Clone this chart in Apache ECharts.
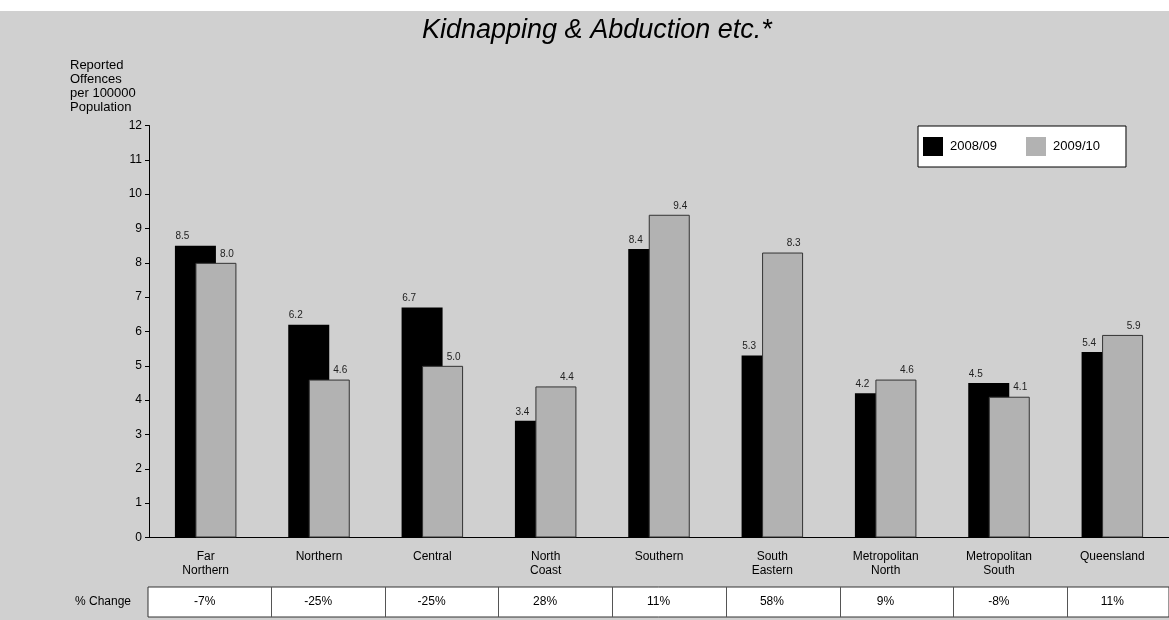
<!DOCTYPE html>
<html>
<head>
<meta charset="utf-8">
<script src="https://cdn.jsdelivr.net/npm/echarts@6/dist/echarts.min.js"></script>
<style>
html,body{margin:0;padding:0;background:#fff;}
#c{width:1169px;height:620px;}
</style>
</head>
<body>
<div id="c"></div>
<script>
const categories = ['Far\nNorthern','Northern','Central','North\nCoast','Southern','South\nEastern','Metropolitan\nNorth','Metropolitan\nSouth','Queensland'];
const series2008 = [8.5, 6.2, 6.7, 3.4, 8.4, 5.3, 4.2, 4.5, 5.4];
const series2009 = [8.0, 4.6, 5.0, 4.4, 9.4, 8.3, 4.6, 4.1, 5.9];
const pctChange = ['-7%','-25%','-25%','28%','11%','58%','9%','-8%','11%'];
const yTicks = [0,1,2,3,4,5,6,7,8,9,10,11,12];

const FONT = 'Liberation Sans, Arial, sans-serif';
const gridLeft = 149, gridWidth = 1024;
const band = gridWidth / categories.length;

const chart = echarts.init(document.getElementById('c'));

const dividers = [];
for (let i = 0; i < categories.length - 1; i++) {
  const x = Math.round(gridLeft + band * (i + 1) + 8) + 0.5;
  dividers.push({type:'line', shape:{x1:x, y1:587, x2:x, y2:617}, style:{stroke:'#555', lineWidth:1}, z:10});
}

chart.setOption({
  backgroundColor: '#ffffff',
  animation: false,
  title: {
    text: 'Kidnapping & Abduction etc.*',
    left: 417, top: 12,
    textStyle: {fontFamily: FONT, fontSize: 27, fontStyle: 'italic', fontWeight: 'normal', color: '#000'}
  },
  legend: {
    left: 918, top: 126,
    orient: 'horizontal',
    backgroundColor: '#fff',
    borderColor: '#000', borderWidth: 1, borderRadius: 0,
    padding: [11, 26, 11, 5],
    itemWidth: 20, itemHeight: 19, itemGap: 29,
    icon: 'rect',
    itemStyle: {borderWidth: 0},
    textStyle: {fontFamily: FONT, fontSize: 13, color: '#000', padding: [0,0,0,2]},
    data: ['2008/09','2009/10']
  },
  grid: [
    {left: gridLeft, width: gridWidth, top: 125.5, bottom: 82.5, containLabel: false},
    {left: gridLeft - 1, width: gridWidth + 1, top: 587, height: 30, show: true, backgroundColor: '#fff', borderColor: '#333', borderWidth: 1}
  ],
  xAxis: [
    {
      type: 'category', gridIndex: 0, data: categories,
      axisLine: {lineStyle: {color: '#000', width: 1}},
      axisTick: {show: false},
      axisLabel: {fontFamily: FONT, fontSize: 12, color: '#000', lineHeight: 14, margin: 12, interval: 0}
    },
    {
      type: 'category', gridIndex: 1, data: pctChange, position: 'bottom',
      axisLine: {show: false}, axisTick: {show: false},
      axisLabel: {inside: true, fontFamily: FONT, fontSize: 12, color: '#000', margin: 15, verticalAlign: 'middle', interval: 0}
    }
  ],
  yAxis: [
    {
      type: 'value', gridIndex: 0, min: 0, max: 12, interval: 1,
      axisLine: {show: true, lineStyle: {color: '#000', width: 1}},
      axisTick: {show: true, length: 4, lineStyle: {color: '#000'}},
      splitLine: {show: false},
      axisLabel: {fontFamily: FONT, fontSize: 12, color: '#000', margin: 7,
        formatter: v => yTicks.includes(v) ? String(v) : ''}
    },
    {type: 'value', gridIndex: 1, show: false}
  ],
  series: [
    {
      name: '2008/09', type: 'bar', xAxisIndex: 0, yAxisIndex: 0,
      data: series2008, barWidth: 41, barGap: '-50%',
      itemStyle: {color: '#000'},
      label: {show: true, position: 'top', distance: 4, offset: [-13, 0],
        fontFamily: FONT, fontSize: 10, color: '#222', formatter: p => p.value.toFixed(1)}
    },
    {
      name: '2009/10', type: 'bar', xAxisIndex: 0, yAxisIndex: 0,
      data: series2009, barWidth: 41, barGap: '-50%',
      itemStyle: {color: '#b2b2b2', borderColor: '#333', borderWidth: 1},
      label: {show: true, position: 'top', distance: 4, offset: [11, 0],
        fontFamily: FONT, fontSize: 10, color: '#222', formatter: p => p.value.toFixed(1)}
    }
  ],
  graphic: [
    {type:'rect', shape:{x:0, y:11, width:1169, height:609}, style:{fill:'#d0d0d0'}, z:-10, silent:true},
    {type:'text', left: 70, top: 59, style:{text:'Reported\nOffences\nper 100000\nPopulation', fontFamily: FONT, fontSize: 13, lineHeight: 13.7, fill:'#000'}},
    {type:'text', right: 1169-131, top: 596, style:{text:'% Change', fontFamily: FONT, fontSize: 12, fill:'#000', align:'right'}},
    ...dividers
  ]
});
</script>
</body>
</html>
